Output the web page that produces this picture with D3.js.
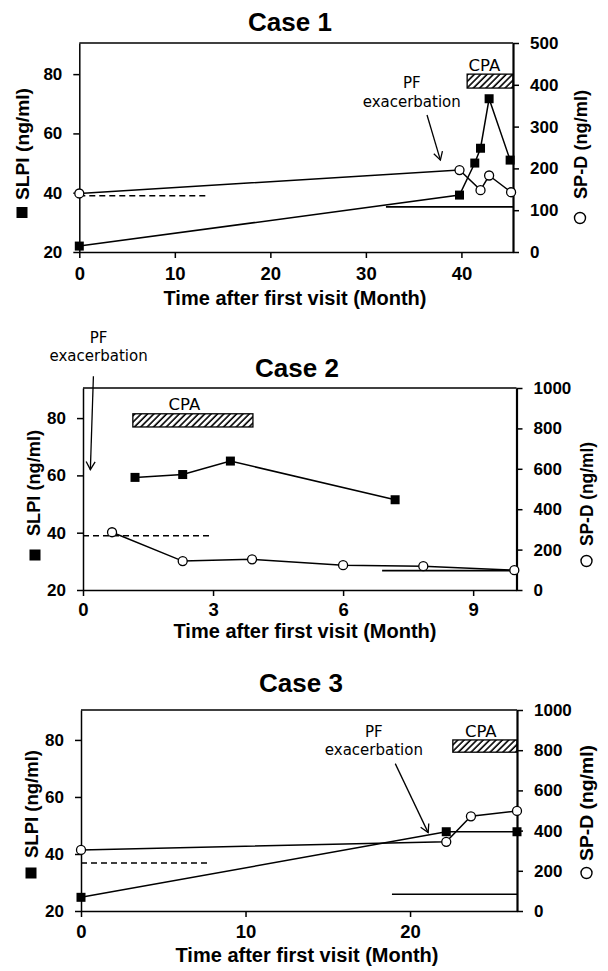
<!DOCTYPE html>
<html>
<head>
<meta charset="utf-8">
<script src="https://cdn.jsdelivr.net/npm/d3@7"></script>
<style>
  body { margin: 0; background: #fff; }
  text { font-family: "Liberation Sans", Arial, sans-serif; fill: #000; }
</style>
</head>
<body>
<script>
// ---- data ----
var xTitle = "Time after first visit (Month)";
var slpiLabel = "SLPI (ng/ml)";
var spdLabel = "SP-D (ng/ml)";
var slpiTicks = [20, 40, 60, 80];

// Case 1
var c1SlpiMonth = [0, 39.8, 41.4, 42.0, 42.9, 45.1];
var c1Slpi = [22, 39.2, 50, 55, 71.7, 51];
var c1SpdMonth = [0, 39.8, 42.0, 42.9, 45.2];
var c1Spd = [140, 196, 148, 183, 143];
var c1XTicks = [0, 10, 20, 30, 40];
var c1SpdTicks = [0, 100, 200, 300, 400, 500];
var c1Dashed = [0, 13.3, 39];      // from, to month, SLPI level
var c1Solid = [32.1, 45.4, 108];   // from, to month, SP-D level
var c1Cpa = [40.6, 45.4];          // months

// Case 2
var c2SlpiMonth = [1.2, 2.3, 3.4, 7.2];
var c2Slpi = [59.3, 60.3, 65, 51.5];
var c2SpdMonth = [0.67, 2.3, 3.9, 6.0, 7.85, 9.95];
var c2Spd = [286, 143, 152, 123, 118, 98];
var c2XTicks = [0, 3, 6, 9];
var c2SpdTicks = [0, 200, 400, 600, 800, 1000];
var c2Dashed = [0, 2.95, 38.9];
var c2Solid = [6.9, 10, 96];
var c2Cpa = [1.15, 3.92];

// Case 3
var c3SlpiMonth = [0, 22.2, 26.5];
var c3Slpi = [24.8, 47.8, 47.8];
var c3SpdMonth = [0, 22.2, 23.7, 26.5];
var c3Spd = [304, 344, 471, 498];
var c3XTicks = [0, 10, 20];
var c3SpdTicks = [0, 200, 400, 600, 800, 1000];
var c3Dashed = [0, 7.85, 36.8];
var c3Solid = [18.9, 26.5, 83];
var c3Cpa = [22.6, 26.5];

var svg = d3.select("body").append("svg")
    .attr("width", 608)
    .attr("height", 971);

var defs = svg.append("defs");
defs.append("pattern")
    .attr("id", "hatch")
    .attr("patternUnits", "userSpaceOnUse")
    .attr("width", 4.5).attr("height", 4.5)
    .attr("patternTransform", "rotate(45)")
  .append("line")
    .attr("x1", 1).attr("y1", 0).attr("x2", 1).attr("y2", 4.5)
    .attr("stroke", "#000").attr("stroke-width", 1.6);
defs.append("marker")
    .attr("id", "arrow")
    .attr("viewBox", "-10 -6 12 12")
    .attr("refX", 0).attr("refY", 0)
    .attr("markerWidth", 12).attr("markerHeight", 12)
    .attr("markerUnits", "userSpaceOnUse")
    .attr("orient", "auto")
  .append("path")
    .attr("d", "M-8,-4.5L0,0L-8,4.5")
    .attr("fill", "none").attr("stroke", "#000").attr("stroke-width", 1.3);

var cases = [
  { title: "Case 1", slpiX: c1SlpiMonth, slpi: c1Slpi, spdX: c1SpdMonth, spd: c1Spd,
    xMax: 45.4, spdMax: 500, xTicks: c1XTicks, spdTicks: c1SpdTicks,
    dashed: c1Dashed, solid: c1Solid, cpa: c1Cpa, cpaSlpi: [80, 75.3], cpaText: [42.4, 81],
    pf: [34.8, 75.3, 69], arrow: [36.4, 66.2, 37.8, 51],
    L: 79.3, R: 513, T: 43, B: 252, xPad: 8.5,
    titleX: 290, titleY: 31, xTitleX: 295, xTitleY: 305,
    sq: [22, 212.5], leftText: [22, 200, 112], circ: [580, 218], rightText: [580, 199, 109] },
  { title: "Case 2", slpiX: c2SlpiMonth, slpi: c2Slpi, spdX: c2SpdMonth, spd: c2Spd,
    xMax: 10, spdMax: 1000, xTicks: c2XTicks, spdTicks: c2SpdTicks,
    dashed: c2Dashed, solid: c2Solid, cpa: c2Cpa, cpaSlpi: [81.5, 76.9], cpaText: [2.34, 82.7],
    pf: [0.36, 106.3, 99.8], arrow: [0.24, 94.6, 0.17, 62],
    L: 83, R: 516.5, T: 388, B: 590, xPad: 7,
    titleX: 297, titleY: 377, xTitleX: 305, xTitleY: 638,
    sq: [35, 555], leftText: [33, 536, 106], circ: [586.5, 561], rightText: [586.5, 546, 104] },
  { title: "Case 3", slpiX: c3SlpiMonth, slpi: c3Slpi, spdX: c3SpdMonth, spd: c3Spd,
    xMax: 26.5, spdMax: 1000, xTicks: c3XTicks, spdTicks: c3SpdTicks,
    dashed: c3Dashed, solid: c3Solid, cpa: c3Cpa, cpaSlpi: [80, 75.7], cpaText: [24.3, 81.2],
    pf: [17.8, 81, 74.6], arrow: [19.1, 71.7, 21.1, 47.5],
    L: 81, R: 517, T: 710, B: 911, xPad: 8,
    titleX: 301, titleY: 692, xTitleX: 307, xTitleY: 962,
    sq: [31, 873], leftText: [31, 858, 108], circ: [586.5, 873], rightText: [586.5, 861, 116] }
];

cases.forEach(drawCase);

function drawCase(c) {
  var g = svg.append("g");
  var x = d3.scaleLinear().domain([0, c.xMax]).range([c.L, c.R]);
  var yL = d3.scaleLinear().domain([20, 90.5]).range([c.B, c.T]);
  var yR = d3.scaleLinear().domain([0, c.spdMax]).range([c.B, c.T]);

  // title
  g.append("text")
    .attr("x", c.titleX).attr("y", c.titleY)
    .attr("text-anchor", "middle")
    .style("font-size", "26px").style("font-weight", "bold")
    .text(c.title);

  // frame top line
  g.append("line")
    .attr("x1", c.L).attr("x2", c.R).attr("y1", c.T).attr("y2", c.T)
    .attr("stroke", "#000").attr("stroke-width", 1.5);

  // axes
  var ax = g.append("g").attr("transform", "translate(0," + c.B + ")")
    .call(d3.axisBottom(x).tickValues(c.xTicks).tickSize(6).tickSizeOuter(0).tickPadding(c.xPad));
  ax.selectAll("text").style("font-size", "18.5px").style("font-weight", "bold");

  var ayL = g.append("g").attr("transform", "translate(" + c.L + ",0)")
    .call(d3.axisLeft(yL).tickValues(slpiTicks).tickSize(6).tickSizeOuter(0).tickPadding(11));
  ayL.selectAll("text").style("font-size", "17px").style("font-weight", "bold");

  var ayR = g.append("g").attr("transform", "translate(" + c.R + ",0)")
    .call(d3.axisRight(yR).tickValues(c.spdTicks).tickFormat(d3.format("d"))
      .tickSize(6).tickSizeOuter(0).tickPadding(11));
  ayR.selectAll("text").style("font-size", "17px").style("font-weight", "bold");

  [ax, ayL].forEach(function(a) {
    a.select(".domain").attr("stroke-width", 1.5);
    a.selectAll(".tick line").attr("stroke-width", 1.5);
  });
  ayR.select(".domain").attr("stroke-width", 2.2);
  ayR.selectAll(".tick line").attr("stroke-width", 1.5);

  // axis titles
  g.append("text")
    .attr("x", c.xTitleX).attr("y", c.xTitleY)
    .attr("text-anchor", "middle")
    .style("font-size", "20px").style("font-weight", "bold")
    .text(xTitle);

  g.append("rect")
    .attr("x", c.sq[0] - 5.5).attr("y", c.sq[1] - 5.5)
    .attr("width", 11).attr("height", 11).attr("fill", "#000");
  g.append("text")
    .attr("transform", "translate(" + c.leftText[0] + "," + c.leftText[1] + ") rotate(-90)")
    .attr("dominant-baseline", "central")
    .attr("textLength", c.leftText[2]).attr("lengthAdjust", "spacingAndGlyphs")
    .style("font-size", "19px").style("font-weight", "bold")
    .text(slpiLabel);

  g.append("circle")
    .attr("cx", c.circ[0]).attr("cy", c.circ[1]).attr("r", 5.5)
    .attr("fill", "#fff").attr("stroke", "#000").attr("stroke-width", 1.4);
  g.append("text")
    .attr("transform", "translate(" + c.rightText[0] + "," + c.rightText[1] + ") rotate(-90)")
    .attr("dominant-baseline", "central")
    .attr("textLength", c.rightText[2]).attr("lengthAdjust", "spacingAndGlyphs")
    .style("font-size", "19px").style("font-weight", "bold")
    .text(spdLabel);

  // reference lines
  g.append("line")
    .attr("x1", x(c.dashed[0])).attr("x2", x(c.dashed[1]))
    .attr("y1", yL(c.dashed[2])).attr("y2", yL(c.dashed[2]))
    .attr("stroke", "#000").attr("stroke-width", 1.5)
    .attr("stroke-dasharray", "6,4");
  g.append("line")
    .attr("x1", x(c.solid[0])).attr("x2", x(c.solid[1]))
    .attr("y1", yR(c.solid[2])).attr("y2", yR(c.solid[2]))
    .attr("stroke", "#000").attr("stroke-width", 1.6);

  // CPA bar
  g.append("rect")
    .attr("x", x(c.cpa[0])).attr("y", yL(c.cpaSlpi[0]))
    .attr("width", x(c.cpa[1]) - x(c.cpa[0]))
    .attr("height", yL(c.cpaSlpi[1]) - yL(c.cpaSlpi[0]))
    .attr("fill", "url(#hatch)").attr("stroke", "#000").attr("stroke-width", 1.3);
  g.append("text")
    .attr("x", x(c.cpaText[0])).attr("y", yL(c.cpaText[1]))
    .attr("text-anchor", "middle")
    .style("font-family", "'DejaVu Sans', sans-serif").style("font-size", "16.5px")
    .text("CPA");

  // PF exacerbation
  g.append("text")
    .attr("x", x(c.pf[0])).attr("y", yL(c.pf[1]))
    .attr("text-anchor", "middle")
    .style("font-family", "'DejaVu Sans', sans-serif").style("font-size", "15px")
    .text("PF");
  g.append("text")
    .attr("x", x(c.pf[0])).attr("y", yL(c.pf[2]))
    .attr("text-anchor", "middle")
    .style("font-family", "'DejaVu Sans', sans-serif").style("font-size", "15px")
    .text("exacerbation");
  g.append("line")
    .attr("x1", x(c.arrow[0])).attr("y1", yL(c.arrow[1]))
    .attr("x2", x(c.arrow[2])).attr("y2", yL(c.arrow[3]))
    .attr("stroke", "#000").attr("stroke-width", 1.3)
    .attr("marker-end", "url(#arrow)");

  // series
  var slpiPts = c.slpiX.map(function(m, i) { return [m, c.slpi[i]]; });
  var spdPts = c.spdX.map(function(m, i) { return [m, c.spd[i]]; });

  g.append("path")
    .attr("d", d3.line().x(function(d) { return x(d[0]); }).y(function(d) { return yR(d[1]); })(spdPts))
    .attr("fill", "none").attr("stroke", "#000").attr("stroke-width", 1.5);
  g.append("path")
    .attr("d", d3.line().x(function(d) { return x(d[0]); }).y(function(d) { return yL(d[1]); })(slpiPts))
    .attr("fill", "none").attr("stroke", "#000").attr("stroke-width", 1.5);

  g.selectAll(".sq").data(slpiPts).enter().append("rect")
    .attr("x", function(d) { return x(d[0]) - 4.5; })
    .attr("y", function(d) { return yL(d[1]) - 4.5; })
    .attr("width", 9).attr("height", 9)
    .attr("fill", "#000");

  g.selectAll(".ci").data(spdPts).enter().append("circle")
    .attr("cx", function(d) { return x(d[0]); })
    .attr("cy", function(d) { return yR(d[1]); })
    .attr("r", 4.5)
    .attr("fill", "#fff").attr("stroke", "#000").attr("stroke-width", 1.3);
}
</script>
</body>
</html>
